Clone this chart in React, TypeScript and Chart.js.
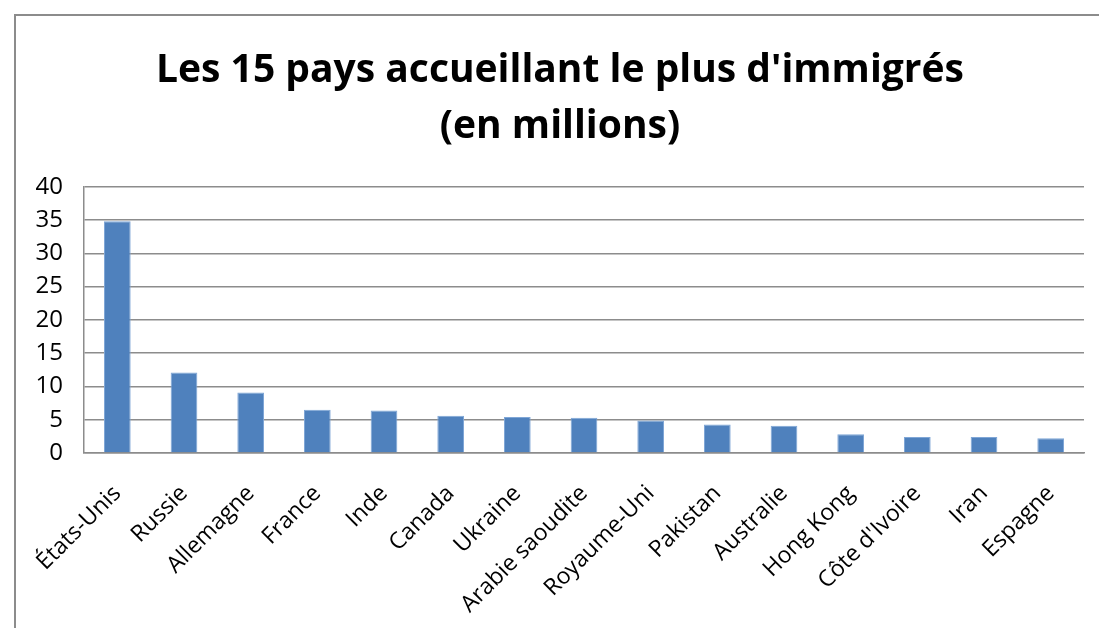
import React, { useEffect, useRef } from "react";
import { Chart, registerables } from "chart.js";

Chart.register(...registerables);

const titleLines = ["Les 15 pays accueillant le plus d'immigrés", "(en millions)"];
const countries = [
  "États-Unis", "Russie", "Allemagne", "France", "Inde", "Canada", "Ukraine",
  "Arabie saoudite", "Royaume-Uni", "Pakistan", "Australie", "Hong Kong",
  "Côte d'Ivoire", "Iran", "Espagne",
];
const immigrants = [34.8, 12.1, 9.1, 6.5, 6.4, 5.6, 5.4, 5.3, 4.9, 4.3, 4.1, 2.8, 2.4, 2.4, 2.2];
const yMin = 0;
const yMax = 40;
const yStep = 5;

const FONT = "'Open Sans', Lato, sans-serif";
const TITLE_FONT_SIZE = 39;

const framePlugin = {
  id: "frame",
  beforeDraw(chart: any) {
    const ctx = chart.ctx;
    ctx.save();
    ctx.fillStyle = "#ffffff";
    ctx.fillRect(0, 0, chart.width, chart.height);
    ctx.strokeStyle = "#8c8c8c";
    ctx.lineWidth = 2;
    ctx.beginPath();
    ctx.moveTo(15, chart.height);
    ctx.lineTo(15, 15);
    ctx.lineTo(chart.width, 15);
    ctx.stroke();
    ctx.restore();
  },
  afterDraw(chart: any) {
    const ctx = chart.ctx;
    ctx.save();
    ctx.fillStyle = "#000000";
    ctx.font = `bold ${TITLE_FONT_SIZE}px ${FONT}`;
    ctx.textAlign = "center";
    ctx.textBaseline = "middle";
    const cx = 560;
    ctx.fillText(titleLines[0], cx, 71);
    ctx.fillText(titleLines[1], cx, 127);
    ctx.restore();
  },
};

export default function App() {
  const ref = useRef<HTMLCanvasElement | null>(null);
  useEffect(() => {
    if (!ref.current) return;
    const chart = new Chart(ref.current, {
      type: "bar",
      data: {
        labels: countries,
        datasets: [
          {
            data: immigrants,
            backgroundColor: "#4F81BD",
            borderColor: "#7fa6d6",
            borderWidth: { top: 1, left: 1, right: 1, bottom: 0 },
            barPercentage: 0.4,
            categoryPercentage: 1,
          },
        ],
      },
      options: {
        animation: false,
        responsive: false,
        maintainAspectRatio: false,
        layout: { padding: { left: 0, right: 15, top: 0, bottom: 0 } },
        plugins: {
          legend: { display: false },
          tooltip: { enabled: false },
          title: {
            display: true,
            text: titleLines,
            color: "rgba(0,0,0,0)",
            font: { family: FONT, size: 37, weight: "bold", lineHeight: 1.51 },
            padding: { top: 44, bottom: 31 },
          },
        },
        scales: {
          x: {
            grid: { display: false, drawTicks: false },
            border: { display: true, color: "#8c8c8c", width: 1.5 },
            ticks: {
              color: "#000000",
              font: { family: FONT, size: 23 },
              maxRotation: 45,
              minRotation: 45,
              padding: 27,
              autoSkip: false,
            },
            afterFit(scale: any) {
              scale.height = 175;
            },
          },
          y: {
            min: yMin,
            max: yMax,
            ticks: {
              stepSize: yStep,
              color: "#000000",
              font: { family: FONT, size: 24 },
              padding: 21,
            },
            grid: { color: "#8c8c8c", lineWidth: 1.5, drawTicks: false },
            border: { display: true, color: "#8c8c8c", width: 1.5 },
            afterFit(scale: any) {
              scale.width = 84;
            },
          },
        },
      },
      plugins: [framePlugin],
    });
    return () => chart.destroy();
  }, []);
  return (
    <div style={{ position: "fixed", left: 0, top: 0, width: 1099, height: 628, background: "#fff" }}>
      <canvas ref={ref} width={1099} height={628} style={{ width: 1099, height: 628, display: "block" }} />
    </div>
  );
}
